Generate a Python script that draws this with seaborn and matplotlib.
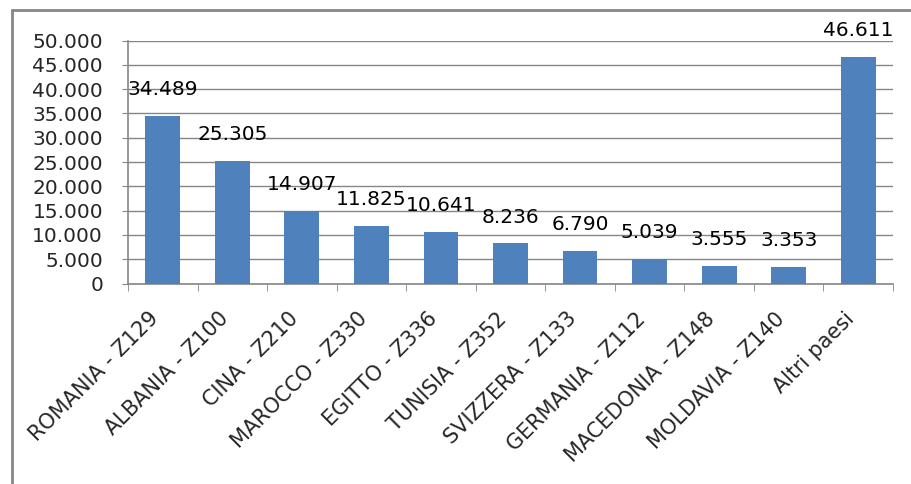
# grafico a barre: stranieri per paese di nascita

import matplotlib
matplotlib.use('Agg')
import matplotlib.pyplot as plt
from matplotlib.lines import Line2D
from matplotlib.ticker import FuncFormatter, FixedLocator
import pandas as pd
import seaborn as sns

# dati
paesi = ['ROMANIA - Z129', 'ALBANIA - Z100', 'CINA - Z210', 'MAROCCO - Z330',
         'EGITTO - Z336', 'TUNISIA - Z352', 'SVIZZERA - Z133', 'GERMANIA - Z112',
         'MACEDONIA - Z148', 'MOLDAVIA - Z140', 'Altri paesi']
valori = [34489, 25305, 14907, 11825, 10641, 8236, 6790, 5039, 3555, 3353, 46611]
tick_y = [0, 5000, 10000, 15000, 20000, 25000, 30000, 35000, 40000, 45000, 50000]

df = pd.DataFrame({'paese': paesi, 'valore': valori})

sns.set_style('white')
plt.rcParams['font.family'] = ['DejaVu Sans']

GRIGIO = '#868686'


def punti(v, pos=None):
    # separatore delle migliaia all'italiana
    return f'{int(v):,}'.replace(',', '.')


fig = plt.figure(figsize=(9.11, 4.84), dpi=100)
ax = fig.add_axes([128 / 911, 200.5 / 484, (893 - 128) / 911, (443.4 - 200.5) / 484])

sns.barplot(x='paese', y='valore', data=df, color='#4F81BD', width=0.5,
            saturation=1, linewidth=0, ax=ax, zorder=3)

ax.set_ylim(0, 50000)
ax.set_xlim(-0.5, len(paesi) - 0.5)
ax.set_yticks(tick_y)
ax.yaxis.set_major_formatter(FuncFormatter(punti))
ax.grid(axis='y', color=GRIGIO, linewidth=1, zorder=0)
ax.set_axisbelow(True)

# assi
for lato in ['top', 'right']:
    ax.spines[lato].set_visible(False)
for lato in ['left', 'bottom']:
    ax.spines[lato].set_color(GRIGIO)
    ax.spines[lato].set_linewidth(1.2)

ax.tick_params(axis='y', length=4, color=GRIGIO, pad=14, labelsize=14.5, left=True)
ax.tick_params(axis='x', which='major', length=0, pad=18, labelsize=15)
ax.xaxis.set_minor_locator(FixedLocator([i - 0.5 for i in range(len(paesi) + 1)]))
ax.tick_params(axis='x', which='minor', length=5, color=GRIGIO, bottom=True)
plt.setp(ax.get_xticklabels(), rotation=45, ha='right')

ax.set_xlabel('')
ax.set_ylabel('')

# etichette dei valori
for i, v in enumerate(valori):
    ax.annotate(punti(v), (i, v), xytext=(0, 19), textcoords='offset points',
                ha='center', va='center', fontsize=14.5, color='black')

# cornice esterna
fig.add_artist(Line2D([12 / 911, 12 / 911], [0, 1 - 10 / 484], transform=fig.transFigure,
                      color=GRIGIO, linewidth=2))
fig.add_artist(Line2D([12 / 911, 1], [1 - 10 / 484, 1 - 10 / 484], transform=fig.transFigure,
                      color=GRIGIO, linewidth=2))

plt.savefig('out.png', dpi=100)
